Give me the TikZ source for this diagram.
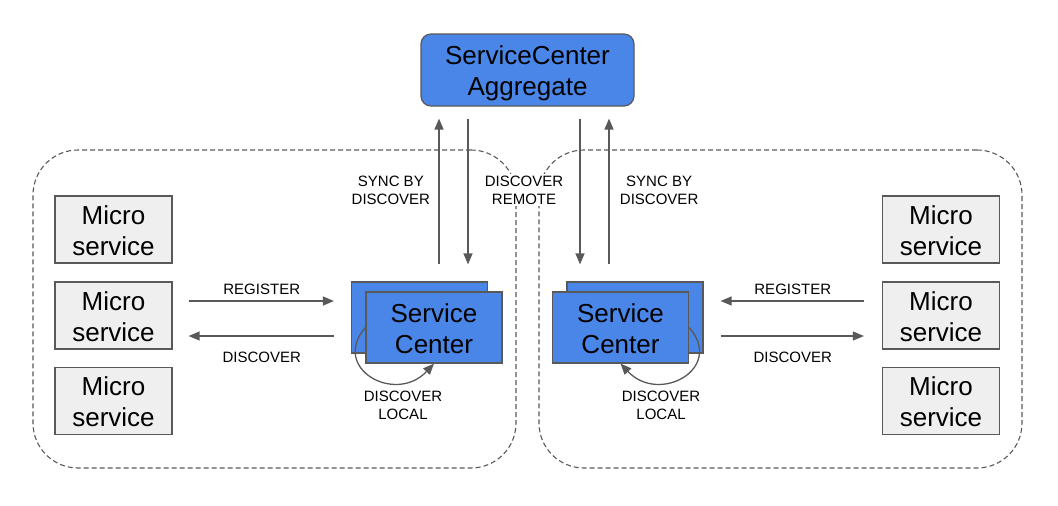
\documentclass[tikz,border=0pt]{standalone}
\usepackage{fontspec}
\setmainfont{Liberation Sans}
\usepackage{xcolor}
\usetikzlibrary{arrows.meta,positioning}
\definecolor{scblue}{HTML}{4A86E8}
\definecolor{msgray}{HTML}{EFEFEF}
\definecolor{linegray}{HTML}{595959}
\newcommand\lnstrut{\rule[-4pt]{0pt}{28.5pt}}

\begin{document}
\begin{tikzpicture}
  [x=1pt,y=-1pt,
   big/.style={font=\fontsize{26}{31}\selectfont,align=center},
   small/.style={font=\fontsize{15}{18}\selectfont,align=center},
   micro/.style={big,draw=linegray,fill=msgray,line width=1.2pt,minimum width=117pt,minimum height=67pt,inner sep=0pt},
   sc/.style={big,draw=linegray,fill=scblue,line width=1.2pt,minimum width=136pt,minimum height=71pt,inner sep=0pt},
   region/.style={draw=linegray,dash pattern=on 5pt off 3pt,line width=1.1pt,rounded corners=45pt,minimum width=483pt,minimum height=318pt},
   arr/.style={draw=linegray,line width=1.3pt,-{Triangle[length=11pt,width=9pt]}}]
  \useasboundingbox (0,0) rectangle (1058,506);

  \node[region] (zl) at (274.5,309) {};
  \node[region] (zr) at (780.5,309) {};

  \node[sc,rounded corners=10pt,minimum width=213pt,minimum height=72pt] (agg) at (527.5,70) {\lnstrut ServiceCenter\\\lnstrut Aggregate};

  \foreach \i/\y in {1/229.5,2/315.5,3/401} {
    \node[micro] (ml\i) at (113.5,\y) {\lnstrut Micro\\\lnstrut service};
    \node[micro] (mr\i) at (941,\y) {\lnstrut Micro\\\lnstrut service};
  }

  \node[sc] (sclb) at (419.5,317.5) {};
  \node[sc] (scl) at (434,327.5) {\lnstrut Service\\\lnstrut Center};
  \node[sc] (scrb) at (635,317.5) {};
  \node[sc] (scr) at (620.5,327.5) {\lnstrut Service\\\lnstrut Center};

  % left side
  \draw[arr,shorten <=16pt,shorten >=17pt] ([yshift=14.5pt]ml2.east) -- ([yshift=14.5pt]ml2.east -| sclb.west)
    node[small,midway,above=2pt] {REGISTER};
  \draw[arr,shorten <=17pt,shorten >=16pt] ([yshift=-20.5pt]ml2.east -| sclb.west) -- ([yshift=-20.5pt]ml2.east)
    node[small,midway,below=12pt] {DISCOVER};
  \draw[arr,shorten <=17pt,shorten >=12pt] ([xshift=19.5pt]sclb.north) -- ([xshift=19.5pt]sclb.north |- agg.south)
    node[small,midway,left=5pt,yshift=4pt] {SYNC BY\\DISCOVER};
  \draw[arr,shorten <=12pt,shorten >=17pt] ([xshift=48.5pt]sclb.north |- agg.south) -- ([xshift=48.5pt]sclb.north);
  \draw[arr] (scl.west) .. controls (330,368) and (395,405) .. (scl.south);
  \node[small] (locl) at (403,405) {DISCOVER\\LOCAL};

  % right side
  \draw[arr,shorten <=18pt,shorten >=17pt] ([yshift=14.5pt]mr2.west) -- ([yshift=14.5pt]mr2.west -| scrb.east)
    node[small,midway,above=2pt] {REGISTER};
  \draw[arr,shorten <=17pt,shorten >=18pt] ([yshift=-20.5pt]mr2.west -| scrb.east) -- ([yshift=-20.5pt]mr2.west)
    node[small,midway,below=12pt] {DISCOVER};
  \draw[arr,shorten <=12pt,shorten >=17pt] ([xshift=-55pt]scrb.north |- agg.south) -- ([xshift=-55pt]scrb.north);
  \draw[arr,shorten <=17pt,shorten >=12pt] ([xshift=-26pt]scrb.north) -- ([xshift=-26pt]scrb.north |- agg.south)
    node[small,midway,right=7pt,yshift=4pt] {SYNC BY\\DISCOVER};
  \draw[arr] (scr.east) .. controls (725,368) and (659.5,405) .. (scr.south);
  \node[small] (locr) at (661,405) {DISCOVER\\LOCAL};

  \node[small,fill=white,inner sep=2pt] (remote) at (524,190) {DISCOVER\\REMOTE};
\end{tikzpicture}
\end{document}
